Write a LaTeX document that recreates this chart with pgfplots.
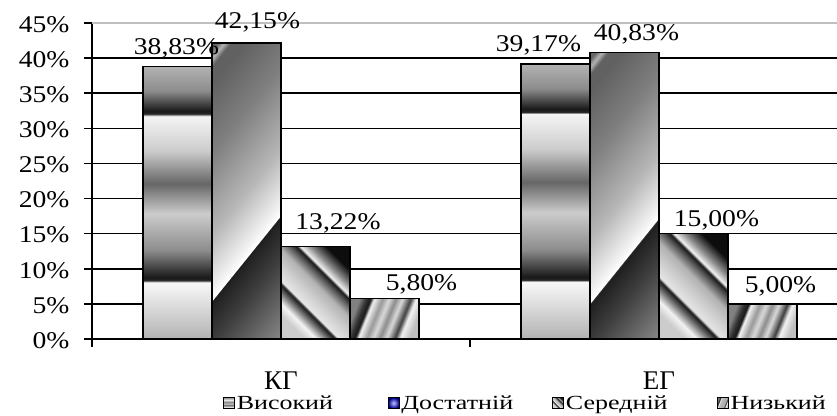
\documentclass[border=0pt]{standalone}
\usepackage{fontspec}
\setmainfont{Liberation Serif}
\newfontfamily\tickfont{Liberation Serif}[FakeStretch=1.15]
\newfontfamily\legfont{Liberation Serif}[FakeStretch=1.3]
\usepackage{pgfplots}
\pgfplotsset{compat=1.18}

% horizontal bands (Високий)
\pgfdeclareverticalshading{bandsA}{100bp}{color(0bp)=(black!30); color(25bp)=(black!30); color(34.5bp)=(black!5); color(35.4bp)=(black!3); color(35.75bp)=(black!85); color(36.3bp)=(black!90); color(41.25bp)=(black!45); color(48bp)=(black!20); color(53.5bp)=(black!60); color(59.5bp)=(black!20); color(65.5bp)=(black!5); color(65.9bp)=(black!3); color(66.25bp)=(black!85); color(66.8bp)=(black!90); color(70.5bp)=(black!45); color(75bp)=(black!30); color(100bp)=(black!30)}
% diagonal (Достатній)
\pgfdeclareverticalshading{diagB}{100bp}{color(0bp)=(black!40); color(11.2bp)=(black!40); color(29.4bp)=(black!75); color(37.5bp)=(black!88); color(37.65bp)=(white); color(39.5bp)=(black!5); color(49.7bp)=(black!28); color(64.9bp)=(black!50); color(78bp)=(black!62); color(81bp)=(black!62); color(82.5bp)=(black!30); color(84bp)=(black!60); color(100bp)=(black!60)}
% stripes (Середній)
\pgfdeclareverticalshading{stripeC}{100bp}{color(0bp)=(black!20); color(25bp)=(black!20); color(30bp)=(black!5); color(35bp)=(black!55); color(38.5bp)=(black!90); color(40bp)=(black!10); color(47.5bp)=(black!20); color(54bp)=(black!30); color(59bp)=(black!65); color(62bp)=(black!90); color(63.5bp)=(black!5); color(68bp)=(black!45); color(75bp)=(black!95); color(100bp)=(black!95)}
% stripes (Низький)
\pgfdeclareverticalshading{stripeD}{100bp}{color(0bp)=(black!50); color(25bp)=(black!50); color(30bp)=(black!80); color(33.5bp)=(black!90); color(36bp)=(black!5); color(42.5bp)=(black!40); color(47.5bp)=(black!15); color(52.5bp)=(black!45); color(57.5bp)=(black!15); color(64bp)=(black!75); color(68bp)=(black!5); color(75bp)=(black!25); color(100bp)=(black!25)}

\pgfplotsset{
  myleg/.style={legend image code/.code={\draw[##1, line width=0.6bp] (0bp,-5.5bp) rectangle (11bp,5.5bp);}},
  sA/.style={ybar, bar shift=-0.27375, draw=black, line width=1.3bp, shading=bandsA, myleg},
  sB/.style={ybar, bar shift=-0.09125, draw=black, line width=1.3bp, shading=diagB, shading angle=51.1,
    legend image code/.code={\draw[draw=black, line width=0.6bp, inner color=blue!25!white, outer color=blue!55!black] (0bp,-5.5bp) rectangle (11bp,5.5bp);}},
  sC/.style={ybar, bar shift=0.09125, draw=black, line width=1.3bp, shading=stripeC, shading angle=-45, myleg},
  sD/.style={ybar, bar shift=0.27375, draw=black, line width=1.3bp, shading=stripeD, shading angle=-112, myleg},
  lab/.style 2 args={every node near coord/.append style={xshift=#1bp, yshift=#2bp}},
}

\begin{document}
\begin{tikzpicture}
\useasboundingbox (-92bp,-77bp) rectangle (745bp,339bp);
\begin{axis}[
  width=745bp, height=316bp, scale only axis,
  xmin=-0.5, xmax=1.471, ymin=0, ymax=45,
  axis lines*=left,
  axis line style={black, line width=1.6bp},
  ytick={0,5,...,40},
  extra y ticks={45},
  extra y tick style={grid=major, major grid style={black!25, line width=1.2bp}},
  yticklabel={\pgfmathprintnumber{\tick}\%},
  ymajorgrids,
  major grid style={black, line width=1.5bp},
  xtick={-0.5,0.5},
  xticklabels={,},
  extra x ticks={0,1},
  extra x tick labels={КГ,ЕГ},
  extra x tick style={major tick length=0pt, grid=none, tick label style={font=\normalfont\fontsize{27bp}{30bp}\selectfont, yshift=-29bp}},
  tick align=outside,
  major tick length=8bp,
  tick style={black, line width=1.5bp},
  tick label style={font=\tickfont\fontsize{24bp}{26bp}\selectfont},
  yticklabel style={xshift=-11bp, yshift=-1.5bp},
  /pgf/number format/assume math mode=true,
  bar width=0.1825,
  clip=false,
  legend columns=4,
  legend style={draw=none, fill=none, at={(0.1718,-0.2025)}, anchor=west,
    font=\legfont\fontsize{20bp}{22bp}\selectfont,
    /tikz/every even column/.append style={column sep=0bp}},
  nodes near coords={\pgfmathprintnumber[fixed,fixed zerofill,precision=2,use comma]{\pgfplotspointmeta}\%},
  every node near coord/.append style={font=\tickfont\fontsize{24bp}{26bp}\selectfont, anchor=base, text=black},
]
\addplot[sA, lab={-104.5}{12}] coordinates {(0,38.83)};
\addlegendentry{\makebox[149bp][l]{Високий}}
\addplot[sB, lab={-23.5}{15}] coordinates {(0,42.15)};
\addlegendentry{\makebox[149bp][l]{Достатній}}
\addplot[sC, lab={57}{17}] coordinates {(0,13.22)};
\addlegendentry{\makebox[149bp][l]{Середній}}
\addplot[sD, lab={140.5}{8}] coordinates {(0,5.80)};
\addlegendentry{\makebox[149bp][l]{Низький}}
\addplot[sA, forget plot, lab={-120.5}{12}] coordinates {(1,39.17)};
\addplot[sB, forget plot, lab={-22.5}{12}] coordinates {(1,40.83)};
\addplot[sC, forget plot, lab={57.5}{7}] coordinates {(1,15.00)};
\addplot[sD, forget plot, lab={121.5}{11}] coordinates {(1,5.00)};
\end{axis}
\end{tikzpicture}
\end{document}
